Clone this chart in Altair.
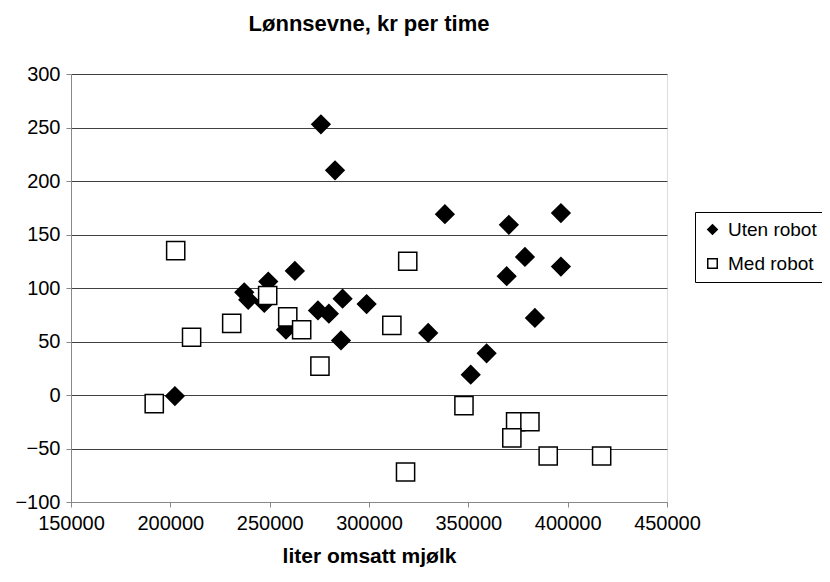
import altair as alt
import pandas as pd

# Uten robot (black diamonds)
uten_x = [275800, 282900, 338200, 370400, 396600, 378500, 396600, 369300, 383500, 359200,
          351200, 329800, 298800, 286700, 285900, 279800, 274300, 262700, 258200, 249300,
          247300, 237200, 239200, 202300]
uten_y = [253, 210, 169, 159, 170, 129, 120, 111, 72, 39,
          19, 58, 85, 90, 51, 76, 79, 116, 61, 106,
          86, 96, 89, -1]

# Med robot (open squares)
med_x = [249000, 259100, 266100, 230900, 210700, 275300, 311500, 319500, 202700, 318400,
         347800, 373800, 381000, 371900, 390200, 417100, 191900]
med_y = [93, 73, 61, 67, 54, 27, 65, 125, 135, -72,
         -10, -25, -25, -40, -57, -57, -8]

series = ["Uten robot", "Med robot"]
x_ticks = [150000, 200000, 250000, 300000, 350000, 400000, 450000]
y_ticks = [-100, -50, 0, 50, 100, 150, 200, 250, 300]

rows = [{"x": a, "y": b, "s": series[0], "o": 0} for a, b in zip(uten_x, uten_y)]
rows += [{"x": a, "y": b, "s": series[1], "o": 1} for a, b in zip(med_x, med_y)]
df = pd.DataFrame(rows)

FONT = "Liberation Sans"


def make_legend():
    return alt.Legend(title=None, orient="none", legendX=624, legendY=138,
                      labelFontSize=19, labelFont=FONT, labelColor="black",
                      symbolSize=90, symbolStrokeWidth=1.5,
                      strokeColor="black", fillColor="white",
                      padding=8, rowPadding=14, labelOffset=6)


chart = alt.Chart(df).mark_point(
    filled=True, strokeWidth=1.5, opacity=1, size=330
).encode(
    x=alt.X("x:Q",
            scale=alt.Scale(domain=[150000, 450000], nice=False, zero=False),
            axis=alt.Axis(values=x_ticks, format="d", grid=False, labelFlush=False,
                          title="liter omsatt mjølk", titleFontWeight="bold",
                          titleFontSize=21, titlePadding=12,
                          labelFontSize=20, labelPadding=6)),
    y=alt.Y("y:Q",
            scale=alt.Scale(domain=[-100, 300], nice=False, zero=False),
            axis=alt.Axis(values=y_ticks, grid=True, title=None,
                          gridColor="#404040", gridWidth=1, gridOpacity=1,
                          labelFontSize=20, labelPadding=6)),
    shape=alt.Shape("s:N", scale=alt.Scale(domain=series, range=["diamond", "square"]),
                    legend=make_legend()),
    fill=alt.Fill("s:N", scale=alt.Scale(domain=series, range=["black", "white"]),
                  legend=make_legend()),
    stroke=alt.Stroke("s:N", scale=alt.Scale(domain=series, range=["black", "black"]),
                      legend=make_legend()),
    order=alt.Order("o:Q"),
).properties(
    width=596, height=428,
    title=alt.TitleParams("Lønnsevne, kr per time", fontSize=22, fontWeight="bold",
                          font=FONT, offset=28, anchor="middle", color="black"),
    autosize=alt.AutoSizeParams(type="none"),
    padding={"left": 63, "top": 66, "right": 155, "bottom": 70},
).configure_view(
    stroke="#808080", strokeWidth=1
).configure_axis(
    labelFont=FONT, titleFont=FONT, labelColor="black", titleColor="black",
    domainColor="black", domainWidth=1, tickColor="black", tickSize=5
).configure(background="white")

chart.save("out.html", embed_options={"renderer": "svg", "actions": False})
